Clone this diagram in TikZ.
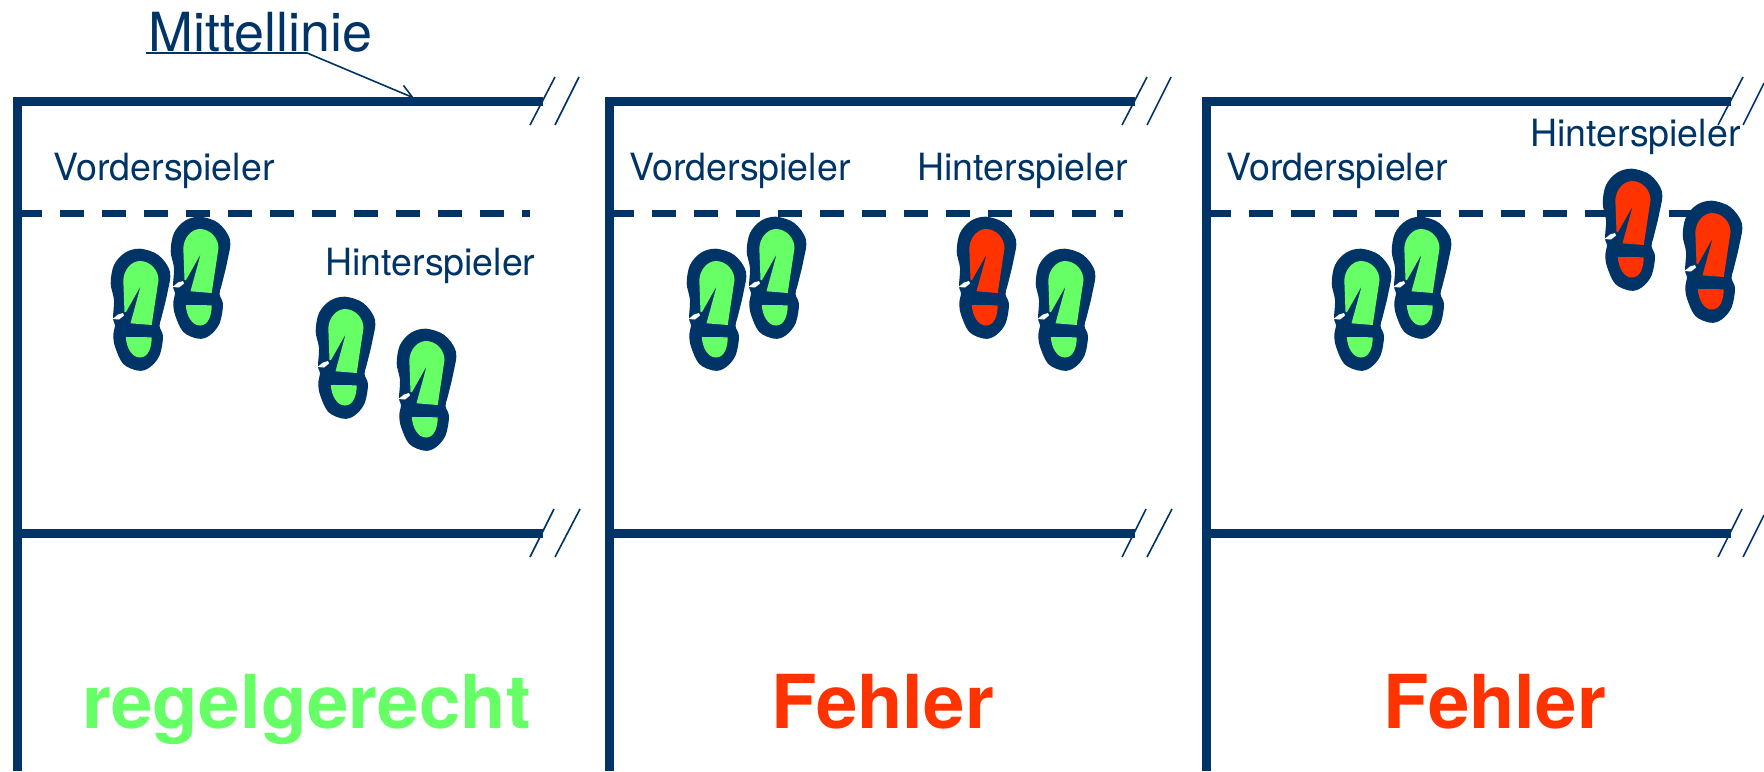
\documentclass[tikz,border=0pt]{standalone}
\usepackage{xcolor}
\usepackage{fontspec}
\usepackage{tikz}
\usetikzlibrary{arrows.meta}
\setmainfont{TeX Gyre Heros}
\definecolor{navy}{HTML}{003366}
\definecolor{okgreen}{HTML}{66FF66}
\definecolor{faultred}{HTML}{FF3300}

% one footprint: x, y, colour
\newcommand{\footprint}[3]{
    \begin{scope}[shift={(#1,#2)}]
        \fill [navy] plot [smooth cycle, tension=0.55] coordinates {(0,-61.3) (18.3,-55) (30,-38.3) (27.3,-16.7) (21.7,6.7) (19.5,16) (23,26.7) (19.3,46) (9.3,57.7) (-1.7,60.7) (-16.7,54) (-25,36.7) (-26.7,25) (-25,15) (-27,8.3) (-26,-10) (-29.3,-26.7) (-26,-45) (-15,-57.3)};
        \fill [#3] (-15.5,2) -- (-16.7,-30) .. controls (-16,-41) and (-8,-49) .. (0,-49) .. controls (10,-49) and (18.5,-40) .. (18.5,-30) -- (11.7,15) -- (-9.5,13.3) -- (0.7,-24) -- (-14,2) -- cycle;
        \fill [#3] (-14.2,27) -- (11.7,27.3) .. controls (11.7,38) and (8,47.5) .. (0,47.5) .. controls (-8,47.5) and (-13.5,38) .. cycle;
        \fill [white] (-27.5,9) -- (-22,4.5) -- (-17,3) -- (-16,5.5) -- (-21,9.5) -- cycle;
    \end{scope}
}

\begin{document}
\begin{tikzpicture}[x=0.5pt, y=-0.5pt]
    % Define styles
    \tikzstyle{border} = [draw=navy, line width=4.5pt]
    \tikzstyle{ruler} = [draw=navy, line width=3.3pt, dash pattern=on 12pt off 9pt]
    \tikzstyle{tick} = [draw=navy, line width=0.8pt]
    \tikzstyle{player} = [text=navy, font=\fontsize{18.75}{22}\selectfont, anchor=base west, inner sep=0pt]
    \tikzstyle{verdict} = [font=\fontsize{37.2}{44}\selectfont\bfseries, anchor=base, inner sep=0pt]
    \tikzstyle{arrow} = [draw=navy, line width=0.8pt, -{Straight Barb[length=6.5pt, width=7.5pt]}]

    \useasboundingbox (0,0) rectangle (1764,771);

    % Nodes
    \node [player, font=\fontsize{26.95}{32}\selectfont] (mittellinie) at (148,51) {Mittellinie};
    \coordinate (underline) at (146,53);
    \coordinate (bend) at (307,53);
    \coordinate (centre) at (414,98);
    \node [player] (front_a) at (53,180) {Vorderspieler};
    \node [player] (back_a) at (325,275) {Hinterspieler};
    \node [player] (front_b) at (629,180) {Vorderspieler};
    \node [player] (back_b) at (917,180) {Hinterspieler};
    \node [player] (front_c) at (1226,180) {Vorderspieler};
    \node [player] (back_c) at (1530,146) {Hinterspieler};
    \node [verdict, text=okgreen] (legal) at (306.5,728) {regelgerecht};
    \node [verdict, text=faultred] (fault_b) at (882.5,728) {Fehler};
    \node [verdict, text=faultred] (fault_c) at (1494.5,728) {Fehler};

    % Arrows
    \draw [arrow] (underline) -- (bend) -- (centre);

    % Courts
    \draw [border] (17.5,771) -- (17.5,101.5) -- (543,101.5);
    \draw [border] (17.5,533) -- (543,533);
    \draw [ruler] (18,213.4) -- (530,213.4);
    \draw [tick] (530,125) -- (555,77);
    \draw [tick] (555,125) -- (579,77);
    \draw [tick] (530,557) -- (554,509);
    \draw [tick] (555,557) -- (580,509);

    \draw [border] (609.5,771) -- (609.5,101.5) -- (1135,101.5);
    \draw [border] (609.5,533) -- (1135,533);
    \draw [ruler] (610,213.4) -- (1123,213.4);
    \draw [tick] (1122,125) -- (1147,77);
    \draw [tick] (1147,125) -- (1171,77);
    \draw [tick] (1122,557) -- (1146,509);
    \draw [tick] (1147,557) -- (1172,509);

    \draw [border] (1206.5,771) -- (1206.5,101.5) -- (1731,101.5);
    \draw [border] (1206.5,533) -- (1731,533);
    \draw [ruler] (1207,213.4) -- (1717,213.4);
    \draw [tick] (1718,125) -- (1743,77);
    \draw [tick] (1743,125) -- (1764,83);
    \draw [tick] (1718,557) -- (1742,509);
    \draw [tick] (1743,557) -- (1764,515);

    % Feet
    \footprint{140}{310}{okgreen}
    \footprint{200}{278}{okgreen}
    \footprint{345}{358}{okgreen}
    \footprint{426}{390}{okgreen}
    \footprint{716}{310}{okgreen}
    \footprint{776}{278}{okgreen}
    \footprint{986}{278}{faultred}
    \footprint{1065}{310}{okgreen}
    \footprint{1361}{310}{okgreen}
    \footprint{1421}{278}{okgreen}
    \footprint{1632}{230}{faultred}
    \footprint{1712}{262}{faultred}
\end{tikzpicture}
\end{document}
